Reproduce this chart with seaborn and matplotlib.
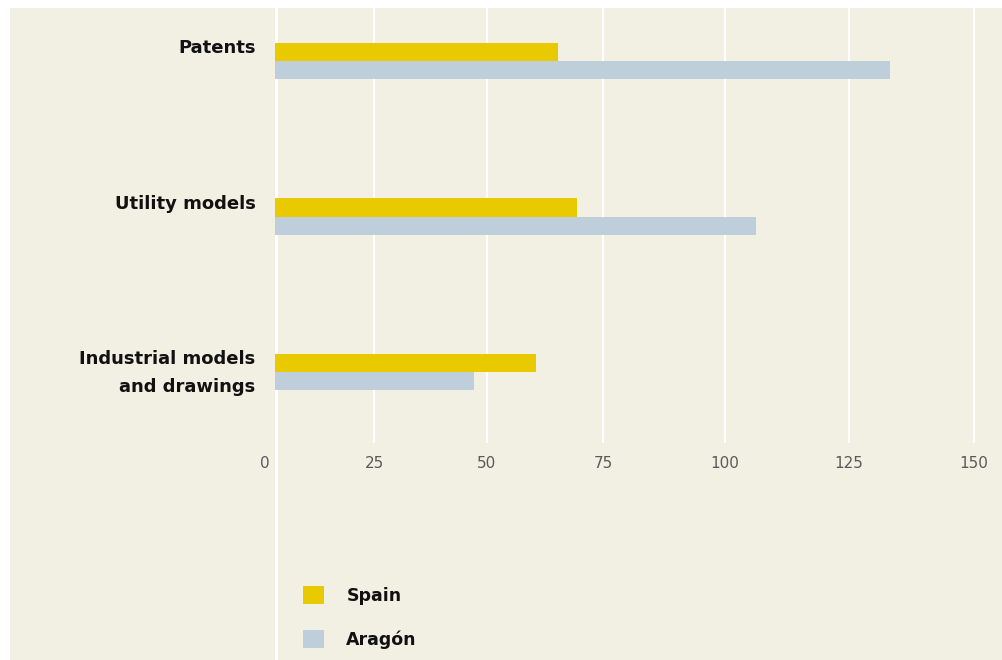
import numpy as np
import pandas as pd
import seaborn as sns
import matplotlib.pyplot as plt
from matplotlib.lines import Line2D
from matplotlib.patches import Rectangle
from matplotlib.transforms import ScaledTranslation

# Data
categories = ["Patents", "Utility models", "Industrial models\nand drawings"]
regions = ["Spain", "Aragón"]
spain = [65.3, 69.5, 60.6]
aragon = [133.2, 106.3, 47.1]
tick_values = [0, 25, 50, 75, 100, 125, 150]

# The printed axis is not evenly spaced: distance of each tick from zero (in px)
scale_values = [-25, 0, 25, 50, 75, 100, 125, 150, 175]
scale_stops = [-99, 0, 99, 212, 328, 450, 574, 699, 824]

BG = "#f2efe3"
YELLOW = "#e9c900"
BLUE = "#bfcedb"
INK = "#111111"

df = pd.DataFrame({
    "category": categories * 2,
    "region": [regions[0]] * 3 + [regions[1]] * 3,
    "value": spain + aragon,
})

sns.set_theme(style="white")
plt.rcParams["font.family"] = ["DejaVu Sans"]

W, H = 1002, 660
fig = plt.figure(figsize=(W / 100, H / 100), dpi=100, facecolor="white")
fig.patches.append(Rectangle((10 / W, 0), 1, (H - 8) / H, transform=fig.transFigure,
                             facecolor=BG, edgecolor="none", zorder=-5))

ax = fig.add_axes([275 / W, (H - 443) / H, (W - 275) / W, 435 / H])
ax.patch.set_alpha(0)


def fwd(x):
    return np.interp(x, scale_values, scale_stops)


def inv(x):
    return np.interp(x, scale_stops, scale_values)


ax.set_xscale("function", functions=(fwd, inv))

sns.barplot(data=df, y="category", x="value", hue="region", orient="h",
            palette=[YELLOW, BLUE], width=0.235, saturation=1, linewidth=0,
            ax=ax)

ax.set_xlim(0, 155.6)
ax.set_ylim(2.455, -0.34)
ax.set_xticks(tick_values)
ax.set_xticklabels([str(v) for v in tick_values])
ax.set_xlabel("")
ax.set_ylabel("")
for s in ax.spines.values():
    s.set_visible(False)
ax.grid(axis="x", color="white", linewidth=1.4)
ax.grid(axis="y", visible=False)
ax.set_axisbelow(True)

ax.tick_params(axis="x", length=0, pad=9, labelsize=11, labelcolor="#5a5a5a")
ax.tick_params(axis="y", length=0, pad=14)

# zero label sits just left of the axis line
xl = ax.get_xticklabels()
xl[0].set_transform(xl[0].get_transform() + ScaledTranslation(-0.10, 0, fig.dpi_scale_trans))

for lab in ax.get_yticklabels():
    lab.set_fontweight("bold")
    lab.set_fontsize(13)
    lab.set_color(INK)
    lab.set_verticalalignment("top")
    lab.set_linespacing(1.7)
    lab.set_transform(lab.get_transform() + ScaledTranslation(0, 0.22, fig.dpi_scale_trans))

# axis line at zero runs the full height
fig.add_artist(Line2D([275.5 / W, 275.5 / W], [0, (H - 8) / H], transform=fig.transFigure,
                      color="white", linewidth=2.2, zorder=-1))

handles, labels = ax.get_legend_handles_labels()
ax.get_legend().remove()
leg = fig.legend(handles, labels, loc="upper left", bbox_to_anchor=(303 / W, 1 - 586 / H),
                 frameon=False, borderpad=0, borderaxespad=0, handlelength=1.2,
                 handleheight=1.2, handletextpad=1.3, labelspacing=1.45,
                 prop={"weight": "bold", "size": 12.5})
for t in leg.get_texts():
    t.set_color(INK)

fig.savefig("out.png", dpi=100, facecolor="white")
